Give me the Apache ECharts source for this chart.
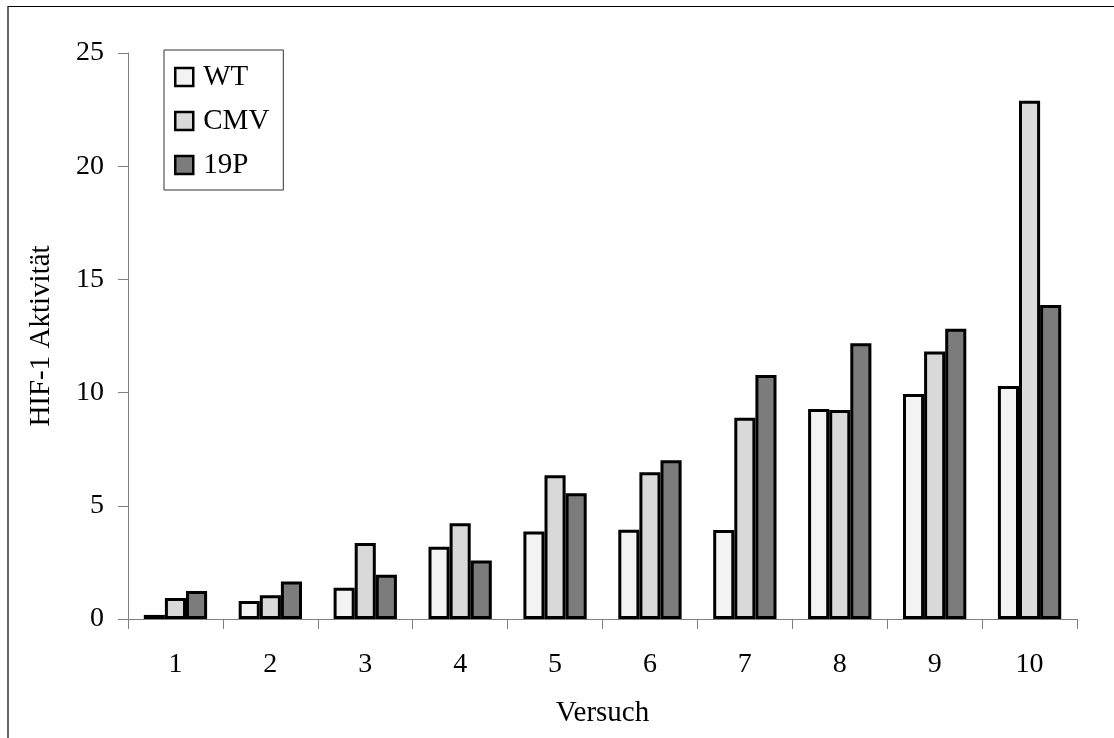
<!DOCTYPE html>
<html>
<head>
<meta charset="utf-8">
<script src="https://cdn.jsdelivr.net/npm/echarts@6/dist/echarts.min.js"></script>
<style>
  html, body { margin: 0; padding: 0; background: #fff; }
  #chart { width: 1114px; height: 738px; }
</style>
</head>
<body>
<div id="chart"></div>
<script>
// Versuch 1..10, HIF-1 activity per construct
const categories = ['1', '2', '3', '4', '5', '6', '7', '8', '9', '10'];
const seriesNames = ['WT', 'CMV', '19P'];
const wtValues  = [0.18, 0.80, 1.38, 3.19, 3.86, 3.94, 3.93, 9.28, 9.94, 10.29];
const cmvValues = [0.93, 1.05, 3.36, 4.23, 6.35, 6.48, 8.89, 9.23, 11.81, 22.89];
const p19Values = [1.24, 1.66, 1.96, 2.58, 5.55, 7.01, 10.78, 12.18, 12.82, 13.87];
const yTicks = [0, 5, 10, 15, 20, 25];

const FONT = '"Liberation Serif", "Times New Roman", serif';
const fills = ['#f3f3f3', '#d9d9d9', '#7c7c7c'];
const valueSets = [wtValues, cmvValues, p19Values];

const chart = echarts.init(document.getElementById('chart'), null, { renderer: 'canvas' });

const series = seriesNames.map((name, i) => ({
  name: name,
  type: 'bar',
  data: valueSets[i],
  barGap: '0%',
  barCategoryGap: '33.3%',
  itemStyle: { color: fills[i], borderColor: '#000', borderWidth: 3 },
  emphasis: { disabled: true },
  animation: false
}));

chart.setOption({
  animation: false,
  backgroundColor: '#fff',
  graphic: [{
    type: 'rect',
    shape: { x: 8, y: 6.5, width: 1200, height: 800 },
    style: { fill: 'none', stroke: '#000', lineWidth: 1.2 },
    silent: true
  }],
  grid: { left: 128, top: 53, right: 37, bottom: 119 },
  legend: {
    data: seriesNames,
    orient: 'vertical',
    left: 164,
    top: 50,
    padding: [12, 14, 10, 10],
    itemGap: 14,
    itemWidth: 18,
    itemHeight: 18,
    backgroundColor: '#fff',
    borderColor: '#333',
    borderWidth: 1,
    borderRadius: 0,
    icon: 'rect',
    itemStyle: { borderColor: '#000', borderWidth: 2.5 },
    textStyle: { fontFamily: FONT, fontSize: 29, color: '#000', lineHeight: 30, padding: [0, 0, 0, 5] }
  },
  xAxis: {
    type: 'category',
    data: categories,
    name: 'Versuch',
    nameLocation: 'middle',
    nameGap: 80,
    nameTextStyle: { fontFamily: FONT, fontSize: 29, color: '#000' },
    axisLine: { lineStyle: { color: '#808080', width: 1 } },
    axisTick: { show: true, inside: false, length: 10, alignWithLabel: false, lineStyle: { color: '#808080' } },
    axisLabel: { fontFamily: FONT, fontSize: 28, color: '#000', margin: 32 },
    splitLine: { show: false }
  },
  yAxis: {
    type: 'value',
    min: yTicks[0],
    max: yTicks[yTicks.length - 1],
    interval: yTicks[1] - yTicks[0],
    name: 'HIF-1 Aktivität',
    nameLocation: 'middle',
    nameRotate: 90,
    nameGap: 72,
    nameTextStyle: { fontFamily: FONT, fontSize: 29, color: '#000' },
    axisLine: { show: true, lineStyle: { color: '#808080', width: 1 } },
    axisTick: { show: true, inside: false, length: 10, lineStyle: { color: '#808080' } },
    axisLabel: { fontFamily: FONT, fontSize: 28, color: '#000', margin: 24 },
    splitLine: { show: false }
  },
  series: series
});
</script>
</body>
</html>
